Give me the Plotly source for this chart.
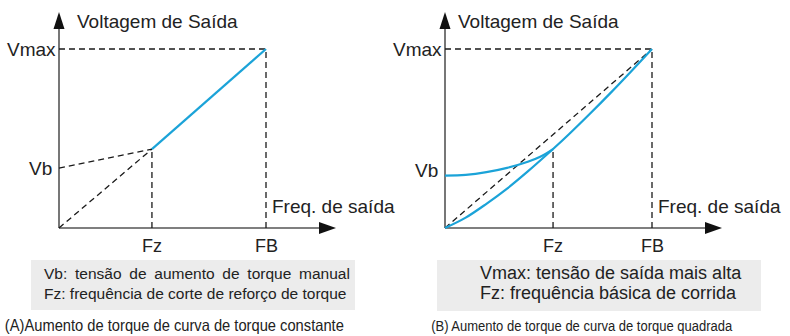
import json
import plotly.graph_objects as go

W, H = 790, 336

# ---- data (normalised units: FB = 1, Vmax = 1) ----
x_tick_labels = ["Fz", "FB"]
y_tick_labels = ["Vb", "Vmax"]
FB = 1.0
VMAX = 1.0

# Panel A (constant torque)
fz_a = 0.449
vb_a = 0.335
vz_a = 0.441
boost_line_a_x = [fz_a, FB]
boost_line_a_y = [vz_a, VMAX]

# Panel B (square torque)
fz_b = 0.522
vb_b = 0.293
vz_b = 0.441
upper_curve_b_x = [0.0, 0.1, 0.2, 0.3, 0.4, 0.46, 0.522]
upper_curve_b_y = [0.293, 0.297, 0.312, 0.336, 0.370, 0.398, 0.441]
lower_curve_b_x = [0.0, 0.1, 0.2, 0.3, 0.4, 0.522, 0.6, 0.7, 0.8, 0.9, 1.0]
lower_curve_b_y = [0.0, 0.058, 0.135, 0.220, 0.316, 0.441, 0.525, 0.638, 0.755, 0.876, 1.0]

axis_titles = ["Voltagem de Saída", "Freq. de saída"]
notes_a = ["Vb:\u2002tensão\u2002de\u2002aumento\u2002de\u2002torque\u2002manual",
           "Fz: frequência de corte de reforço de torque"]
notes_b = ["Vmax: tensão de saída mais alta",
           "Fz: frequência básica de corrida"]
captions = ["(A)Aumento de torque de curva de torque constante",
            "(B) Aumento de torque de curva de torque quadrada"]
caption_widths = [339, 301]   # rendered (condensed) widths in px

# ---- styling ----
BLUE = "#1ba3d8"
DASH_COLOR = "#1a1a1a"
AXIS_COLOR = "#555555"
TEXT = "#222222"
BOX = "#ececec"
FONT = "Liberation Sans, Arial, sans-serif"

PX_X = 207.0   # pixels per x unit
PX_Y = 179.0   # pixels per y unit
PAD = 12       # pixel padding around the axes so arrowheads are not clipped
X_END = 277 / PX_X
Y_END = 216 / PX_Y


def px_dom_x(a, b):
    return [a / W, b / W]


def px_dom_y(top, bottom):
    return [1 - bottom / H, 1 - top / H]


fig = go.Figure()

dash_line = dict(color=DASH_COLOR, width=1.3, dash="6px,4px")

panels = [
    dict(xa="x", ya="y", fz=fz_a, vz=vz_a),
    dict(xa="x2", ya="y2", fz=fz_b, vz=vz_b),
]

# dashed helpers A
fig.add_trace(go.Scatter(x=[0, fz_a], y=[vb_a, vz_a], mode="lines", line=dash_line, xaxis="x", yaxis="y"))
fig.add_trace(go.Scatter(x=[0, fz_a], y=[0, vz_a], mode="lines", line=dash_line, xaxis="x", yaxis="y"))
fig.add_trace(go.Scatter(x=[fz_a, fz_a], y=[0, vz_a], mode="lines", line=dash_line, xaxis="x", yaxis="y"))
fig.add_trace(go.Scatter(x=[FB, FB], y=[0, VMAX], mode="lines", line=dash_line, xaxis="x", yaxis="y"))
fig.add_trace(go.Scatter(x=[0, FB], y=[VMAX, VMAX], mode="lines", line=dash_line, xaxis="x", yaxis="y"))
fig.add_trace(go.Scatter(x=boost_line_a_x, y=boost_line_a_y, mode="lines",
                         line=dict(color=BLUE, width=2.2), xaxis="x", yaxis="y"))

# dashed helpers B
fig.add_trace(go.Scatter(x=[0, FB], y=[0, VMAX], mode="lines", line=dash_line, xaxis="x2", yaxis="y2"))
fig.add_trace(go.Scatter(x=[fz_b, fz_b], y=[0, vz_b], mode="lines", line=dash_line, xaxis="x2", yaxis="y2"))
fig.add_trace(go.Scatter(x=[FB, FB], y=[0, VMAX], mode="lines", line=dash_line, xaxis="x2", yaxis="y2"))
fig.add_trace(go.Scatter(x=[0, FB], y=[VMAX, VMAX], mode="lines", line=dash_line, xaxis="x2", yaxis="y2"))
fig.add_trace(go.Scatter(x=upper_curve_b_x, y=upper_curve_b_y, mode="lines",
                         line=dict(color=BLUE, width=2.2, shape="spline"), xaxis="x2", yaxis="y2"))
fig.add_trace(go.Scatter(x=lower_curve_b_x, y=lower_curve_b_y, mode="lines",
                         line=dict(color=BLUE, width=2.2, shape="spline"), xaxis="x2", yaxis="y2"))

shapes = []
annotations = []

for i, p in enumerate(panels):
    xr, yr = p["xa"], p["ya"]
    # axes lines
    shapes.append(dict(type="line", xref=xr, yref=yr, x0=0, y0=0, x1=X_END - 10 / PX_X, y1=0,
                       line=dict(color=AXIS_COLOR, width=1.6), layer="below"))
    shapes.append(dict(type="line", xref=xr, yref=yr, x0=0, y0=0, x1=0, y1=Y_END - 10 / PX_Y,
                       line=dict(color=AXIS_COLOR, width=1.6), layer="below"))
    # arrow heads
    shapes.append(dict(type="path", xref=xr, yref=yr, xsizemode="pixel", ysizemode="pixel",
                       xanchor=X_END, yanchor=0, path="M 0 0 L -17 6 L -17 -6 Z",
                       fillcolor="#111111", line=dict(width=0)))
    shapes.append(dict(type="path", xref=xr, yref=yr, xsizemode="pixel", ysizemode="pixel",
                       xanchor=0, yanchor=Y_END, path="M 0 0 L -5.5 -17 L 5.5 -17 Z",
                       fillcolor="#111111", line=dict(width=0)))
    # tick labels
    annotations.append(dict(xref=xr, yref=yr, x=p["fz"], y=0, text=x_tick_labels[0],
                            showarrow=False, yanchor="middle", xanchor="center", yshift=-18,
                            font=dict(family=FONT, size=18, color=TEXT)))
    annotations.append(dict(xref=xr, yref=yr, x=FB, y=0, text=x_tick_labels[1],
                            showarrow=False, yanchor="middle", xanchor="center", yshift=-18,
                            font=dict(family=FONT, size=18, color=TEXT)))
    annotations.append(dict(xref=xr, yref=yr, x=0, y=VMAX, text=y_tick_labels[1],
                            showarrow=False, xanchor="right", yanchor="middle", xshift=-1,
                            font=dict(family=FONT, size=19, color=TEXT)))
    vb_y = vb_a if i == 0 else vb_b
    annotations.append(dict(xref=xr, yref=yr, x=0, y=vb_y, text=y_tick_labels[0],
                            showarrow=False, xanchor="right", yanchor="middle",
                            xshift=-5, yshift=(0 if i == 0 else 5),
                            font=dict(family=FONT, size=19, color=TEXT)))
    # axis titles
    annotations.append(dict(xref=xr, yref=yr, x=0, y=Y_END, text=axis_titles[0],
                            showarrow=False, xanchor="left", yanchor="middle",
                            xshift=(16 if i == 0 else 11), yshift=-9,
                            font=dict(family=FONT, size=19, color=TEXT)))
    annotations.append(dict(xref=xr, yref=yr, x=FB, y=0, text=axis_titles[1],
                            showarrow=False, xanchor="left", yanchor="middle",
                            xshift=4, yshift=22,
                            font=dict(family=FONT, size=19, color=TEXT)))

# grey note boxes
shapes.append(dict(type="rect", xref="paper", yref="paper",
                   x0=31 / W, x1=355 / W, y0=1 - 310 / H, y1=1 - 260 / H,
                   fillcolor=BOX, line=dict(width=0), layer="below"))
shapes.append(dict(type="rect", xref="paper", yref="paper",
                   x0=437 / W, x1=761 / W, y0=1 - 311 / H, y1=1 - 260 / H,
                   fillcolor=BOX, line=dict(width=0), layer="below"))

for j, t in enumerate(notes_a):
    annotations.append(dict(xref="paper", yref="paper", x=42 / W, y=1 - (273 + 20 * j) / H,
                            text=t, showarrow=False, xanchor="left", yanchor="middle",
                            font=dict(family=FONT, size=15.5, color=TEXT)))
for j, t in enumerate(notes_b):
    annotations.append(dict(xref="paper", yref="paper", x=478 / W, y=1 - (273 + 20 * j) / H,
                            text=t, showarrow=False, xanchor="left", yanchor="middle",
                            font=dict(family=FONT, size=18, color=TEXT)))

# captions: centred on the span they occupy in the reference
caption_left = [5, 431]
caption_sizes = [16.5, 15.5]
for k in range(2):
    annotations.append(dict(xref="paper", yref="paper",
                            x=(caption_left[k] + caption_widths[k] / 2) / W, y=1 - 325 / H,
                            text=captions[k], showarrow=False, xanchor="center", yanchor="middle",
                            font=dict(family=FONT, size=caption_sizes[k], color=TEXT)))

axis_common = dict(visible=False, fixedrange=True)
x_range = [-PAD / PX_X, X_END + 2 / PX_X]
y_range = [-PAD / PX_Y, Y_END + 2 / PX_Y]
fig.update_layout(
    width=W, height=H,
    margin=dict(l=0, r=0, t=0, b=0),
    paper_bgcolor="white", plot_bgcolor="rgba(0,0,0,0)",
    showlegend=False,
    xaxis=dict(domain=px_dom_x(59 - PAD, 336 + 2), range=x_range, **axis_common),
    yaxis=dict(domain=px_dom_y(12 - 2, 228 + PAD), range=y_range, **axis_common),
    xaxis2=dict(domain=px_dom_x(445 - PAD, 722 + 2), range=x_range, anchor="y2", **axis_common),
    yaxis2=dict(domain=px_dom_y(12 - 2, 228 + PAD), range=y_range, anchor="x2", **axis_common),
    shapes=shapes,
    annotations=annotations,
)

# condense the two captions to their reference widths (text stays real SVG text)
post_js = """
document.body.style.margin='0';
document.body.style.overflow='hidden';
var caps = %s, widths = %s;
document.querySelectorAll('text.annotation-text').forEach(function (t) {
  var k = caps.indexOf(t.textContent);
  if (k >= 0) {
    t.setAttribute('textLength', widths[k]);
    t.setAttribute('lengthAdjust', 'spacingAndGlyphs');
  }
});
""" % (json.dumps(captions), json.dumps(caption_widths))

fig.write_html("out.html", config={"displayModeBar": False}, post_script=post_js)
